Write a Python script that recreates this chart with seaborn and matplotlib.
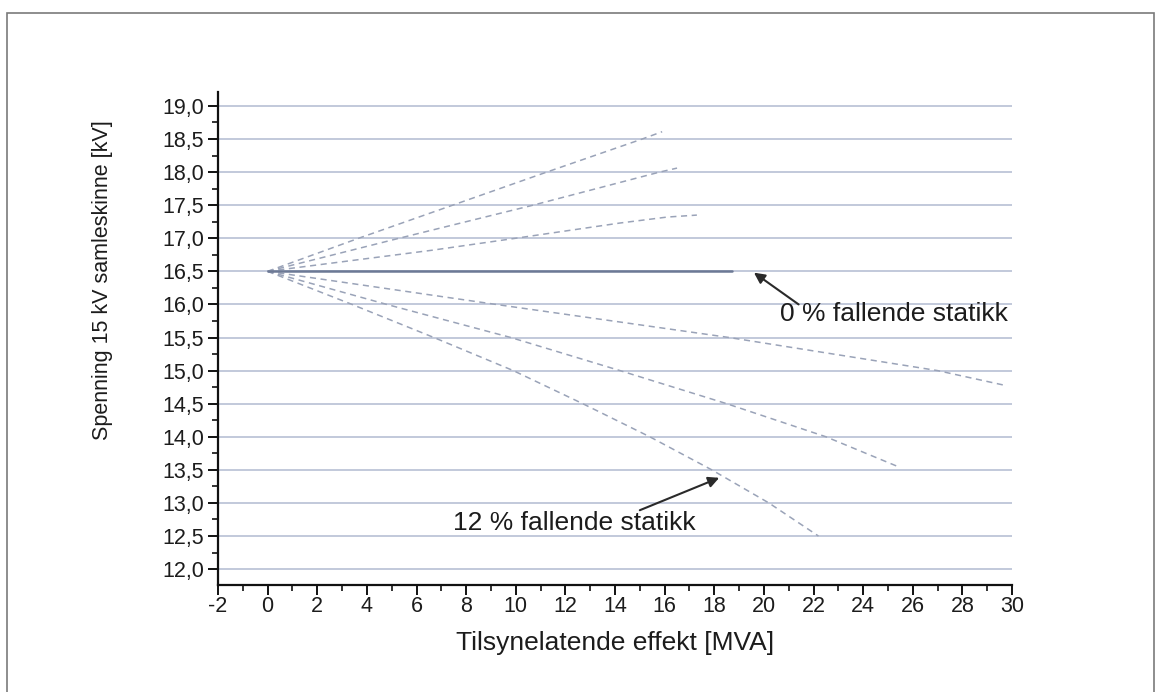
import matplotlib
matplotlib.use("Agg")
import matplotlib.pyplot as plt
import seaborn as sns
import pandas as pd
from matplotlib.ticker import MultipleLocator
from matplotlib.patches import Rectangle

# ---------------- data ----------------
s1_x = [0, 3.67, 7.46, 11.25, 15.1, 15.9]
s1_y = [16.5, 17.0, 17.5, 18.0, 18.5, 18.61]
s2_x = [0, 5.3, 10.7, 15.8, 16.5]
s2_y = [16.5, 17.0, 17.5, 18.0, 18.06]
s3_x = [0, 6.65, 10.0, 14.2, 16.1, 17.3]
s3_y = [16.5, 16.82, 17.0, 17.23, 17.32, 17.35]
s4_x = [0, 18.7]            # 0 % fallende statikk
s4_y = [16.5, 16.5]
s5_x = [0, 9.2, 18.6, 27.0, 29.8]
s5_y = [16.5, 16.0, 15.5, 15.0, 14.77]
s6_x = [0, 4.8, 9.8, 14.2, 18.5, 22.5, 25.4]
s6_y = [16.5, 16.0, 15.5, 15.0, 14.5, 14.0, 13.55]
s7_x = [0, 3.4, 6.7, 9.9, 12.7, 15.4, 17.9, 20.2, 22.2]   # 12 % fallende statikk
s7_y = [16.5, 16.0, 15.5, 15.0, 14.5, 14.0, 13.5, 13.0, 12.5]

x_ticks = [-2, 0, 2, 4, 6, 8, 10, 12, 14, 16, 18, 20, 22, 24, 26, 28, 30]
x_labels = ["-2", "0", "2", "4", "6", "8", "10", "12", "14", "16", "18", "20",
            "22", "24", "26", "28", "30"]
y_ticks = [12.0, 12.5, 13.0, 13.5, 14.0, 14.5, 15.0, 15.5, 16.0, 16.5, 17.0,
           17.5, 18.0, 18.5, 19.0]
y_labels = ["12,0", "12,5", "13,0", "13,5", "14,0", "14,5", "15,0", "15,5",
            "16,0", "16,5", "17,0", "17,5", "18,0", "18,5", "19,0"]

x_title = "Tilsynelatende effekt [MVA]"
y_title = "Spenning 15 kV samleskinne [kV]"
label_0 = "0 % fallende statikk"
label_12 = "12 % fallende statikk"
arrow_0 = {"tail": (21.4, 16.0), "head": (19.6, 16.48), "text": (20.65, 15.86)}
arrow_12 = {"tail": (15.0, 12.89), "head": (18.2, 13.38), "text": (7.46, 12.70)}

# ---------------- styling ----------------
sns.set_theme(style="white")
plt.rcParams["font.family"] = ["Liberation Sans", "DejaVu Sans"]
TXT = "#1c1c1c"
GRID = "#b7c0d4"
DASH = "#9aa3b8"

fig = plt.figure(figsize=(11.62, 6.92), dpi=100)
fig.patch.set_facecolor("white")
ax = fig.add_axes([218 / 1162, (692 - 585) / 692, 794 / 1162, 493 / 692])
ax.set_facecolor("white")

# horizontal grid lines
for yv in y_ticks:
    ax.axhline(yv, color=GRID, lw=1.2, zorder=1)

dashed = [(s1_x, s1_y), (s2_x, s2_y), (s3_x, s3_y),
          (s5_x, s5_y), (s6_x, s6_y), (s7_x, s7_y)]
for xs, ys in dashed:
    df = pd.DataFrame({"x": xs, "y": ys})
    sns.lineplot(data=df, x="x", y="y", ax=ax, color=DASH, lw=1.1,
                 linestyle=(0, (4, 3)), estimator=None, sort=False, zorder=3)

df0 = pd.DataFrame({"x": s4_x, "y": s4_y})
sns.lineplot(data=df0, x="x", y="y", ax=ax, color="#6c7995", lw=1.8,
             estimator=None, sort=False, zorder=3)

ax.set_xlim(-2, 30)
ax.set_ylim(11.76, 19.21)
ax.set_xticks(x_ticks)
ax.set_xticklabels(x_labels)
ax.set_yticks(y_ticks)
ax.set_yticklabels(y_labels)
ax.xaxis.set_minor_locator(MultipleLocator(1))
ax.yaxis.set_minor_locator(MultipleLocator(0.25))

for side in ["top", "right"]:
    ax.spines[side].set_visible(False)
for side in ["left", "bottom"]:
    ax.spines[side].set_color("#111111")
    ax.spines[side].set_linewidth(1.6)

ax.tick_params(axis="both", which="major", direction="out", length=7, width=1.4,
               color="#111111", labelsize=15.5, labelcolor=TXT)
ax.tick_params(axis="x", which="major", pad=1)
ax.tick_params(axis="y", which="major", pad=3)
ax.tick_params(axis="both", which="minor", direction="out", length=4, width=1.2,
               color="#111111")
ax.tick_params(axis="both", which="both", left=True, bottom=True)

ax.set_xlabel(x_title, fontsize=19, color=TXT)
ax.set_ylabel(y_title, fontsize=15.5, color=TXT)
ax.xaxis.set_label_coords(0.5, -0.093)
ax.yaxis.set_label_coords(-0.132, 0.619)

# annotations
for info, lab in [(arrow_0, label_0), (arrow_12, label_12)]:
    ax.annotate("", xy=info["head"], xytext=info["tail"],
                arrowprops=dict(arrowstyle="-|>", color="#2a2a2a", lw=1.5,
                                mutation_scale=16, shrinkA=0, shrinkB=0),
                zorder=5)
    ax.text(info["text"][0], info["text"][1], lab, fontsize=19, color=TXT,
            ha="left", va="center", zorder=5)

# scanned page frame
fig.patches.append(Rectangle((7 / 1162, -0.05), (1154 - 7) / 1162,
                             1.05 - 13 / 692, transform=fig.transFigure,
                             fill=False, edgecolor="#7a7a7a", lw=1.2))

fig.savefig("out.png", dpi=100, facecolor="white")
